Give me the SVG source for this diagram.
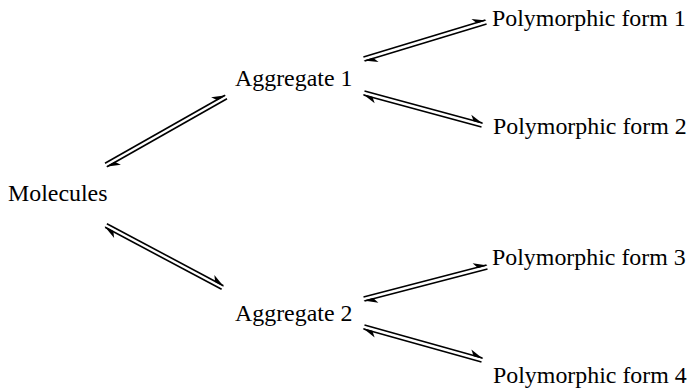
<svg xmlns="http://www.w3.org/2000/svg" width="689" height="390" viewBox="0 0 689 390">
  <style>
    .label { font-family: "Liberation Serif", "Times New Roman", serif; font-size: 23.9px; fill: #000; }
    .eq line { stroke: #000; stroke-width: 1.6; fill: none; marker-end: url(#harpoon); }
  </style>
  <defs>
    <!-- half arrowhead: barb on the left side of the line direction -->
    <marker id="harpoon" markerUnits="userSpaceOnUse" viewBox="-14 -7 16 8" refX="0" refY="0" markerWidth="16" markerHeight="8" orient="auto" overflow="visible">
      <path d="M1,0.6 L-13,-5.2 L-9,0.6 Z" fill="#000"/>
    </marker>
  </defs>

  <rect width="689" height="390" fill="#fff"/>

  <g id="molecules"><text class="label" x="8" y="201">Molecules</text></g>
  <g id="aggregate1"><text class="label" x="235" y="86">Aggregate 1</text></g>
  <g id="aggregate2"><text class="label" x="235" y="321">Aggregate 2</text></g>
  <g id="form1"><text class="label" x="492" y="26">Polymorphic form 1</text></g>
  <g id="form2"><text class="label" x="493" y="134">Polymorphic form 2</text></g>
  <g id="form3"><text class="label" x="492" y="265">Polymorphic form 3</text></g>
  <g id="form4"><text class="label" x="493" y="383">Polymorphic form 4</text></g>

  <!-- equilibrium pairs: forward line offset to the left, reverse line to the right -->
  <g id="connectors" class="eq">
    <!-- Molecules <=> Aggregate 1 -->
    <line x1="105.0" y1="163.3" x2="225.0" y2="95.3"/>
    <line x1="227.0" y1="98.7" x2="107.0" y2="166.7"/>
    <!-- Molecules <=> Aggregate 2 -->
    <line x1="106.9" y1="223.7" x2="223.4" y2="285.7"/>
    <line x1="221.6" y1="289.3" x2="105.1" y2="227.3"/>
    <!-- Aggregate 1 <=> form 1 -->
    <line x1="363.4" y1="57.1" x2="485.4" y2="20.1"/>
    <line x1="486.6" y1="23.9" x2="364.6" y2="60.9"/>
    <!-- Aggregate 1 <=> form 2 -->
    <line x1="364.5" y1="91.1" x2="482.5" y2="123.1"/>
    <line x1="481.5" y1="126.9" x2="363.5" y2="94.9"/>
    <!-- Aggregate 2 <=> form 3 -->
    <line x1="363.5" y1="297.1" x2="486.5" y2="265.1"/>
    <line x1="487.5" y1="268.9" x2="364.5" y2="300.9"/>
    <!-- Aggregate 2 <=> form 4 -->
    <line x1="364.5" y1="325.1" x2="482.5" y2="358.1"/>
    <line x1="481.5" y1="361.9" x2="363.5" y2="328.9"/>
  </g>
</svg>
